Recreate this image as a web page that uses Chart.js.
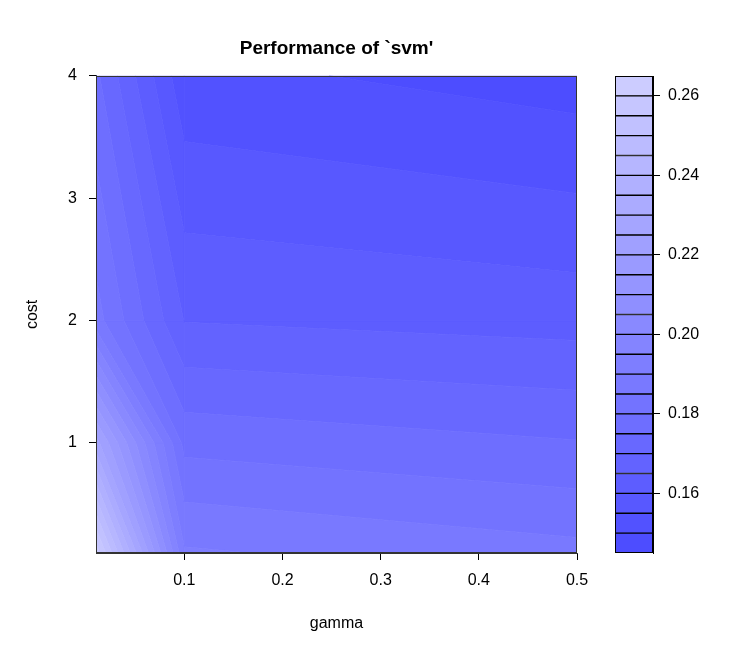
<!DOCTYPE html>
<html><head><meta charset="utf-8">
<script src="https://cdn.jsdelivr.net/npm/chart.js@4.4.0/dist/chart.umd.min.js"></script>
<style>
body{margin:0;background:#fff;}
#wrap{position:relative;width:750px;height:650px;}
canvas{position:absolute;left:0;top:0;}
</style>
</head><body>
<div id="wrap"><canvas id="main" width="750" height="650"></canvas><canvas id="bar" width="750" height="650"></canvas></div>
<script>
// ---- data ----
const gammaValues = [0.01, 0.1, 0.5];
const costValues = [0.1, 1, 2, 4];
// mean CV error for each gamma (rows) across costValues
const errGamma001 = [0.263, 0.227, 0.187, 0.176];
const errGamma01  = [0.1907, 0.1784, 0.1648, 0.1514];
const errGamma05  = [0.1866, 0.1753, 0.1630, 0.1476];
const levels = [0.145,0.150,0.155,0.160,0.165,0.170,0.175,0.180,0.185,0.190,0.195,0.200,0.205,0.210,0.215,0.220,0.225,0.230,0.235,0.240,0.245,0.250,0.255,0.260,0.265];
const xTicks = [0.1, 0.2, 0.3, 0.4, 0.5];
const yTicks = [1, 2, 3, 4];
const zTicks = [0.16, 0.18, 0.20, 0.22, 0.24, 0.26];

const errMatrix = [errGamma001, errGamma01, errGamma05];
const FONT = "'Liberation Sans', Arial, Helvetica, sans-serif";
Chart.defaults.color = '#000';
Chart.defaults.font.family = FONT;

// hsv(2/3, s, 1) palette, s from 0.7 to 0.2
const nBands = levels.length - 1;
const bandColors = [];
for (let k = 0; k < nBands; k++) {
  const s = 0.7 - 0.5 * k / (nBands - 1);
  const c = Math.round((1 - s) * 255);
  bandColors.push(`rgb(${c},${c},255)`);
}

const contourPlugin = {
  id: 'contour',
  beforeDatasetsDraw(chart) {
    const {ctx, chartArea: ca, scales: {x, y}} = chart;
    ctx.save();
    ctx.beginPath(); ctx.rect(ca.left, ca.top, ca.width, ca.height); ctx.clip();
    for (let i = 0; i < gammaValues.length - 1; i++) {
      for (let j = 0; j < costValues.length - 1; j++) {
        const c = [
          {gx: gammaValues[i], cy: costValues[j], z: errMatrix[i][j]},
          {gx: gammaValues[i+1], cy: costValues[j], z: errMatrix[i+1][j]},
          {gx: gammaValues[i+1], cy: costValues[j+1], z: errMatrix[i+1][j+1]},
          {gx: gammaValues[i], cy: costValues[j+1], z: errMatrix[i][j+1]}
        ];
        for (let k = 0; k < nBands; k++) {
          const lo = levels[k], hi = levels[k+1];
          const pts = [];
          for (let e = 0; e < 4; e++) {
            const A = c[e], B = c[(e+1) % 4];
            if (A.z >= lo && A.z <= hi) pts.push([A.gx, A.cy]);
            const ts = [];
            for (const L of [lo, hi]) {
              if ((A.z - L) * (B.z - L) < 0) ts.push((L - A.z) / (B.z - A.z));
            }
            ts.sort((a, b) => a - b);
            for (const t of ts) pts.push([A.gx + t * (B.gx - A.gx), A.cy + t * (B.cy - A.cy)]);
          }
          if (pts.length < 3) continue;
          ctx.beginPath();
          pts.forEach((p, n) => {
            const px = x.getPixelForValue(p[0]), py = y.getPixelForValue(p[1]);
            if (n === 0) ctx.moveTo(px, py); else ctx.lineTo(px, py);
          });
          ctx.closePath();
          ctx.fillStyle = bandColors[k];
          ctx.strokeStyle = bandColors[k];
          ctx.lineWidth = 0.8;
          ctx.fill(); ctx.stroke();
        }
      }
    }
    ctx.restore();
  },
  afterDraw(chart) {
    const {ctx, chartArea: ca} = chart;
    ctx.save();
    ctx.strokeStyle = '#333'; ctx.lineWidth = 1;
    ctx.strokeRect(Math.round(ca.left) + 0.5, Math.round(ca.top) + 0.5, Math.round(ca.width) - 1, Math.round(ca.height) - 1);
    ctx.restore();
  }
};

new Chart(document.getElementById('main'), {
  type: 'scatter',
  data: {datasets: [{data: [], pointRadius: 0}]},
  options: {
    responsive: false, animation: false, devicePixelRatio: 1,
    layout: {padding: {left: 0, right: 173, top: 0, bottom: 0}},
    plugins: {
      legend: {display: false}, tooltip: {enabled: false},
      title: {display: true, fullSize: false, text: "Performance of `svm'", font: {size: 19, weight: 'bold', family: FONT}, padding: {top: 37, bottom: 16}}
    },
    scales: {
      x: {
        type: 'linear', min: gammaValues[0], max: gammaValues[gammaValues.length - 1],
        afterBuildTicks: s => { s.ticks = xTicks.map(v => ({value: v})); },
        afterFit: s => { s.height = 97; },
        ticks: {font: {size: 16}, padding: 11, maxRotation: 0, callback: v => String(v)},
        grid: {drawOnChartArea: false, drawTicks: true, tickLength: 7, color: '#000'},
        border: {display: true, color: '#333'},
        title: {display: true, text: 'gamma', font: {size: 16}, padding: {top: 0, bottom: 17}}
      },
      y: {
        type: 'linear', min: costValues[0], max: costValues[costValues.length - 1],
        afterBuildTicks: s => { s.ticks = yTicks.map(v => ({value: v})); },
        afterFit: s => { s.width = 96; },
        ticks: {font: {size: 16}, padding: 12, callback: v => String(v)},
        grid: {drawOnChartArea: false, drawTicks: true, tickLength: 7, color: '#000'},
        border: {display: true, color: '#333'},
        title: {display: true, text: 'cost', font: {size: 16}, padding: {top: 23, bottom: 0}}
      }
    }
  },
  plugins: [contourPlugin]
});

const barFrame = {
  id: 'barFrame',
  afterDraw(chart) {
    const {ctx, chartArea: ca} = chart;
    ctx.save();
    ctx.strokeStyle = '#000'; ctx.lineWidth = 1;
    ctx.strokeRect(Math.round(ca.left) + 0.5, Math.round(ca.top) + 0.5, Math.round(ca.width) - 1, Math.round(ca.height) - 1);
    ctx.restore();
  }
};

new Chart(document.getElementById('bar'), {
  type: 'bar',
  data: {
    labels: [''],
    datasets: bandColors.map((col, k) => ({
      data: [[levels[k], levels[k+1]]],
      backgroundColor: col, borderColor: '#000', borderWidth: 1, borderSkipped: false,
      grouped: false, categoryPercentage: 1, barPercentage: 1
    }))
  },
  options: {
    responsive: false, animation: false, devicePixelRatio: 1,
    layout: {padding: {left: 615, right: 37, top: 76, bottom: 97}},
    plugins: {legend: {display: false}, tooltip: {enabled: false}, title: {display: false}},
    scales: {
      x: {display: false},
      y: {
        position: 'right', min: levels[0], max: levels[levels.length - 1],
        afterBuildTicks: s => { s.ticks = zTicks.map(v => ({value: v})); },
        afterFit: s => { s.width = 60; },
        ticks: {font: {size: 16}, padding: 8, callback: v => v.toFixed(2)},
        grid: {drawOnChartArea: false, drawTicks: true, tickLength: 7, color: '#000'},
        border: {display: true, color: '#000'}
      }
    }
  },
  plugins: [barFrame]
});
</script>
</body></html>
